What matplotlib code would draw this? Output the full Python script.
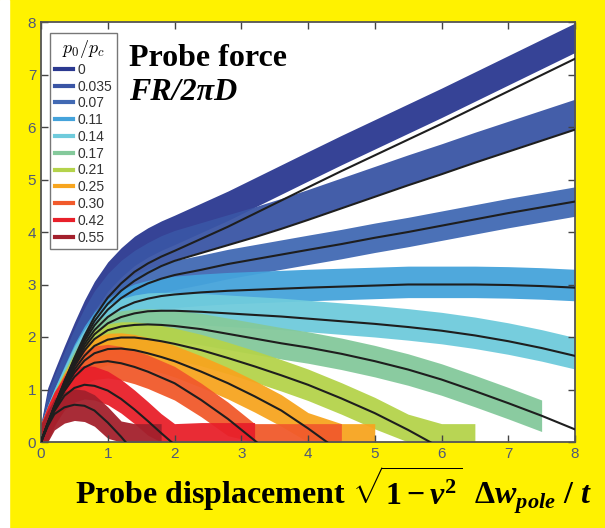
import numpy as np
import matplotlib.pyplot as plt
from matplotlib.lines import Line2D
from matplotlib.patches import Rectangle

nan = np.nan

# pressure ratio p0/pc for each run
pressure_labels = ["0", "0.035", "0.07", "0.11", "0.14", "0.17", "0.21", "0.25", "0.30", "0.42", "0.55"]
colors = ["#2b3990", "#3a55a5", "#4169b3", "#45a3db", "#6fcbdc", "#84c99b",
          "#b4d34b", "#f7a51f", "#f15a2b", "#e8202a", "#a3202c"]

grid_x = [0, 0.1, 0.2, 0.35, 0.5, 0.65, 0.8, 1.0, 1.2, 1.4, 1.6, 1.8, 2.0,
          2.4, 2.8, 3.2, 3.6, 4.0, 4.5, 5.0, 5.5, 6.0, 6.5, 7.0, 7.5, 8.0]

# theory curves (black lines)
fit_000 = [0, 0.35, 0.68, 1.15, 1.6, 2.02, 2.38, 2.75, 3.02, 3.24, 3.4, 3.53, 3.64,
           3.87, 4.1, 4.35, 4.6, 4.85, 5.16, 5.46, 5.76, 6.06, 6.37, 6.68, 6.99, 7.3]
fit_035 = [0, 0.35, 0.68, 1.14, 1.58, 1.97, 2.3, 2.63, 2.88, 3.07, 3.22, 3.35, 3.45,
           3.6, 3.75, 3.9, 4.06, 4.23, 4.45, 4.67, 4.89, 5.1, 5.32, 5.53, 5.74, 5.95]
fit_070 = [0, 0.35, 0.67, 1.12, 1.55, 1.92, 2.22, 2.52, 2.74, 2.9, 3.02, 3.11, 3.18,
           3.28, 3.39, 3.48, 3.57, 3.66, 3.77, 3.89, 4.0, 4.12, 4.24, 4.36, 4.47, 4.58]
fit_110 = [0, 0.35, 0.67, 1.1, 1.52, 1.86, 2.13, 2.38, 2.55, 2.66, 2.73, 2.78, 2.81,
           2.85, 2.88, 2.9, 2.92, 2.94, 2.96, 2.98, 3.0, 3.0, 3.0, 2.99, 2.97, 2.94]
fit_140 = [0, 0.35, 0.66, 1.08, 1.48, 1.8, 2.05, 2.26, 2.38, 2.45, 2.49, 2.5, 2.5,
           2.48, 2.45, 2.42, 2.39, 2.35, 2.3, 2.25, 2.19, 2.12, 2.03, 1.92, 1.79, 1.64]
fit_170 = [0, 0.35, 0.66, 1.06, 1.44, 1.74, 1.96, 2.13, 2.2, 2.23, 2.24, 2.23, 2.21,
           2.15, 2.06, 1.97, 1.88, 1.8, 1.68, 1.54, 1.38, 1.19, 0.97, 0.74, 0.5, 0.24]
fit_210 = [0, 0.34, 0.65, 1.04, 1.38, 1.64, 1.83, 1.95, 1.99, 1.99, 1.96, 1.92, 1.87,
           1.75, 1.6, 1.44, 1.27, 1.09, 0.83, 0.55, 0.23, -0.12, nan, nan, nan, nan]
fit_250 = [0, 0.34, 0.64, 1.01, 1.32, 1.55, 1.69, 1.77, 1.78, 1.75, 1.69, 1.62, 1.54,
           1.34, 1.12, 0.87, 0.6, 0.26, -0.2, nan, nan, nan, nan, nan, nan, nan]
fit_300 = [0, 0.33, 0.62, 0.97, 1.24, 1.42, 1.51, 1.54, 1.5, 1.43, 1.34, 1.23, 1.12,
           0.8, 0.44, 0.03, -0.4, nan, nan, nan, nan, nan, nan, nan, nan, nan]
fit_420 = [0, 0.32, 0.59, 0.88, 1.03, 1.09, 1.07, 0.98, 0.82, 0.62, 0.4, 0.17, -0.05,
           nan, nan, nan, nan, nan, nan, nan, nan, nan, nan, nan, nan, nan]
fit_550 = [0, 0.3, 0.53, 0.66, 0.71, 0.69, 0.6, 0.37, 0.1, -0.2, nan, nan, nan,
           nan, nan, nan, nan, nan, nan, nan, nan, nan, nan, nan, nan, nan]
fits = [fit_000, fit_035, fit_070, fit_110, fit_140, fit_170,
        fit_210, fit_250, fit_300, fit_420, fit_550]

# measured (noisy) traces: offset from the fit, noise half width, last x
data_shift = [0.4, 0.3, 0.0, 0.05, 0.05, 0.0, 0.0, 0.0, 0.0, 0.05, 0.0]
data_halfwidth = [0.28, 0.28, 0.28, 0.3, 0.3, 0.3, 0.3, 0.3, 0.32, 0.32, 0.3]
data_end = [8.0, 8.0, 8.0, 8.0, 8.0, 7.5, 6.5, 5.0, 4.5, 3.2, 1.8]
noise_floor = 0.35

plt.rcParams["mathtext.fontset"] = "custom"
plt.rcParams["mathtext.rm"] = "Liberation Serif:bold"
plt.rcParams["mathtext.it"] = "Liberation Serif:italic:bold"
plt.rcParams["mathtext.bf"] = "Liberation Serif:bold"

fig = plt.figure(figsize=(6.05, 5.28), dpi=100)
fig.patch.set_facecolor("#fff200")
fig.add_artist(Rectangle((0, 0), 9 / 605, 1, transform=fig.transFigure,
                         color="white", zorder=0))
ax = fig.add_axes([41 / 605, 1 - 442 / 528, 534 / 605, 420 / 528])

gx = np.array(grid_x)
for i in range(len(fits)):
    fy = np.array(fits[i])
    keep = gx <= data_end[i]
    centre = np.nan_to_num(fy, nan=0.0) + data_shift[i]
    centre[gx == 0] = 0
    centre = np.clip(centre, 0, None)
    lo = np.clip(centre - data_halfwidth[i], 0, None)
    hi = np.maximum(centre + data_halfwidth[i], noise_floor)
    ax.fill_between(gx[keep], lo[keep], hi[keep], color=colors[i], lw=0,
                    alpha=0.95, zorder=1 + i * 0.01)

for fy in fits:
    ax.plot(grid_x, fy, color="#1e1e1e", lw=1.5, zorder=3)

ax.set_xlim(0, 8)
ax.set_ylim(0, 8)
ax.set_xticks(range(9))
ax.set_yticks(range(9))
ax.tick_params(direction="in", top=True, right=True, length=5, width=1,
               color="#444444", labelcolor="#4f5878", labelsize=11)
for lab in ax.get_xticklabels() + ax.get_yticklabels():
    lab.set_fontfamily("Liberation Sans")
for s in ax.spines.values():
    s.set_color("#555555")
    s.set_linewidth(1.3)

handles = [Line2D([], [], color=c, lw=3) for c in colors]
leg = ax.legend(handles, pressure_labels, title=r"$p_0/p_c$", loc="upper left",
                bbox_to_anchor=(0.004, 0.99), fontsize=10, title_fontsize=13,
                prop={"family": "Liberation Sans", "size": 10},
                handlelength=1.3, handletextpad=0.35, labelspacing=0.2,
                borderpad=0.35, fancybox=False, framealpha=1, edgecolor="#777777")
leg.get_title().set_math_fontfamily("cm")
leg.get_frame().set_linewidth(1)
for t in leg.get_texts():
    t.set_color("#333333")
leg.set_zorder(5)

ax.text(0.165, 0.895, "Probe force", transform=ax.transAxes, fontsize=23,
        family="Liberation Serif", weight="bold", va="baseline", zorder=6)
ax.text(0.165, 0.815, "FR/2\u03c0D", transform=ax.transAxes, fontsize=23,
        family="Liberation Serif", weight="bold", style="italic", va="baseline", zorder=6)

xl = fig.text(0.124, 0.045,
              r"Probe displacement $\sqrt{1 - v^2}\;\;\Delta w_{pole}$ / $t$",
              fontsize=23, family="Liberation Serif", weight="bold", va="baseline")
xl.set_math_fontfamily("custom")

fig.savefig("out.png", dpi=100, facecolor=fig.get_facecolor())
